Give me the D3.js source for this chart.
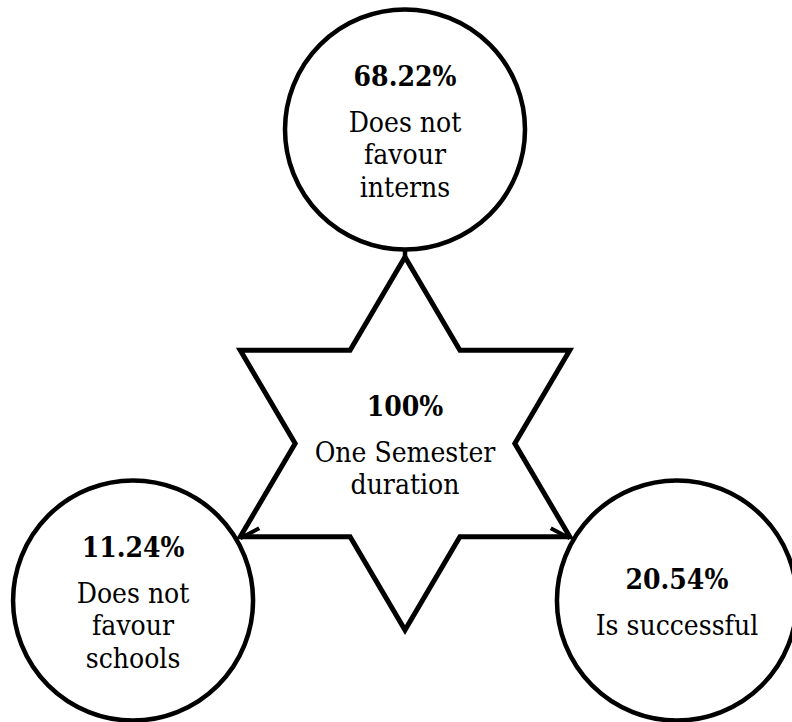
<!DOCTYPE html>

<head>
  <meta charset="utf-8">
  <title>One Semester duration</title>
  <style>
    body {
      margin: 0;
      background: #fff;
    }
  </style>
</head>

<body>
  <div id="chart"></div>

  <script src="https://d3js.org/d3.v7.min.js"></script>
  <script>

    // centre node
    const centerValue = "100%";
    const centerLabel = ["One Semester", "duration"];

    // outer nodes
    const outcomes = ["Does not favour interns", "Does not favour schools", "Is successful"];
    const outcomeValues = ["68.22%", "11.24%", "20.54%"];
    const outcomeLines = [["Does not", "favour", "interns"], ["Does not", "favour", "schools"], ["Is successful"]];
    const outcomeAngles = [-90, 150, 30];

    let width = 792,
      height = 722;

    const cx = 405, cy = 443.5;
    const starR = 186.5, starSx = 1.02;
    const ring = 314, circleR = 120;
    const serif = "'DejaVu Serif Condensed', 'DejaVu Serif', serif";

    const svg = d3.select('#chart')
      .append('svg')
      .attr("width", width)
      .attr("height", height);

    const toRad = d3.scaleLinear().domain([0, 360]).range([0, 2 * Math.PI]);

    // six pointed star
    const starPts = d3.range(12).map(i => {
      const a = toRad(-90 + i * 30);
      const r = i % 2 === 0 ? starR : starR / Math.sqrt(3);
      return [cx + r * Math.cos(a) * starSx, cy + r * Math.sin(a)];
    });

    const nodes = outcomes.map((name, i) => {
      const a = toRad(outcomeAngles[i]);
      return {
        name: name,
        value: outcomeValues[i],
        lines: outcomeLines[i],
        x: cx + ring * Math.cos(a),
        y: cy + ring * Math.sin(a)
      };
    });

    // connector from top circle down to star apex
    svg.append("line")
      .attr("x1", nodes[0].x).attr("y1", nodes[0].y + circleR)
      .attr("x2", starPts[0][0]).attr("y2", starPts[0][1])
      .attr("stroke", "#000")
      .attr("stroke-width", 4.5);

    svg.append("path")
      .attr("d", d3.line()(starPts) + "Z")
      .attr("fill", "#fff")
      .attr("stroke", "#000")
      .attr("stroke-width", 5)
      .attr("stroke-linejoin", "miter");

    svg.selectAll("circle")
      .data(nodes)
      .join("circle")
      .attr("cx", d => d.x)
      .attr("cy", d => d.y)
      .attr("r", circleR)
      .attr("fill", "#fff")
      .attr("stroke", "#000")
      .attr("stroke-width", 4.5);

    // arrow heads at lower star points (pointing to the lower circles)
    const tips = [starPts[8], starPts[4]];
    svg.selectAll("path.arrow")
      .data(tips)
      .join("path")
      .attr("class", "arrow")
      .attr("d", (p, i) => {
        const s = i === 0 ? 1 : -1;
        return `M${p[0] + s * 19},${p[1] - 8.5}L${p[0]},${p[1] + 1.5}`;
      })
      .attr("fill", "none")
      .attr("stroke", "#000")
      .attr("stroke-width", 4);

    // labels: bold value line then description lines
    function label(x, y, value, lines) {
      const first = 46, step = 32.5;
      const n = lines.length;
      const y0 = y - (24 + first + step * (n - 1)) / 2 + 24 - 0.5;
      const g = svg.append("g")
        .attr("text-anchor", "middle")
        .attr("font-family", serif)
        .attr("font-size", 28)
        .attr("fill", "#000");
      g.append("text")
        .attr("x", x)
        .attr("y", y0)
        .attr("font-weight", "bold")
        .text(value);
      g.selectAll("text.line")
        .data(lines)
        .join("text")
        .attr("class", "line")
        .attr("x", x)
        .attr("y", (d, i) => y0 + first + i * step)
        .text(d => d);
    }

    label(cx, cy, centerValue, centerLabel);
    nodes.forEach(d => label(d.x, d.y, d.value, d.lines));

  </script>
</body>

</html>
